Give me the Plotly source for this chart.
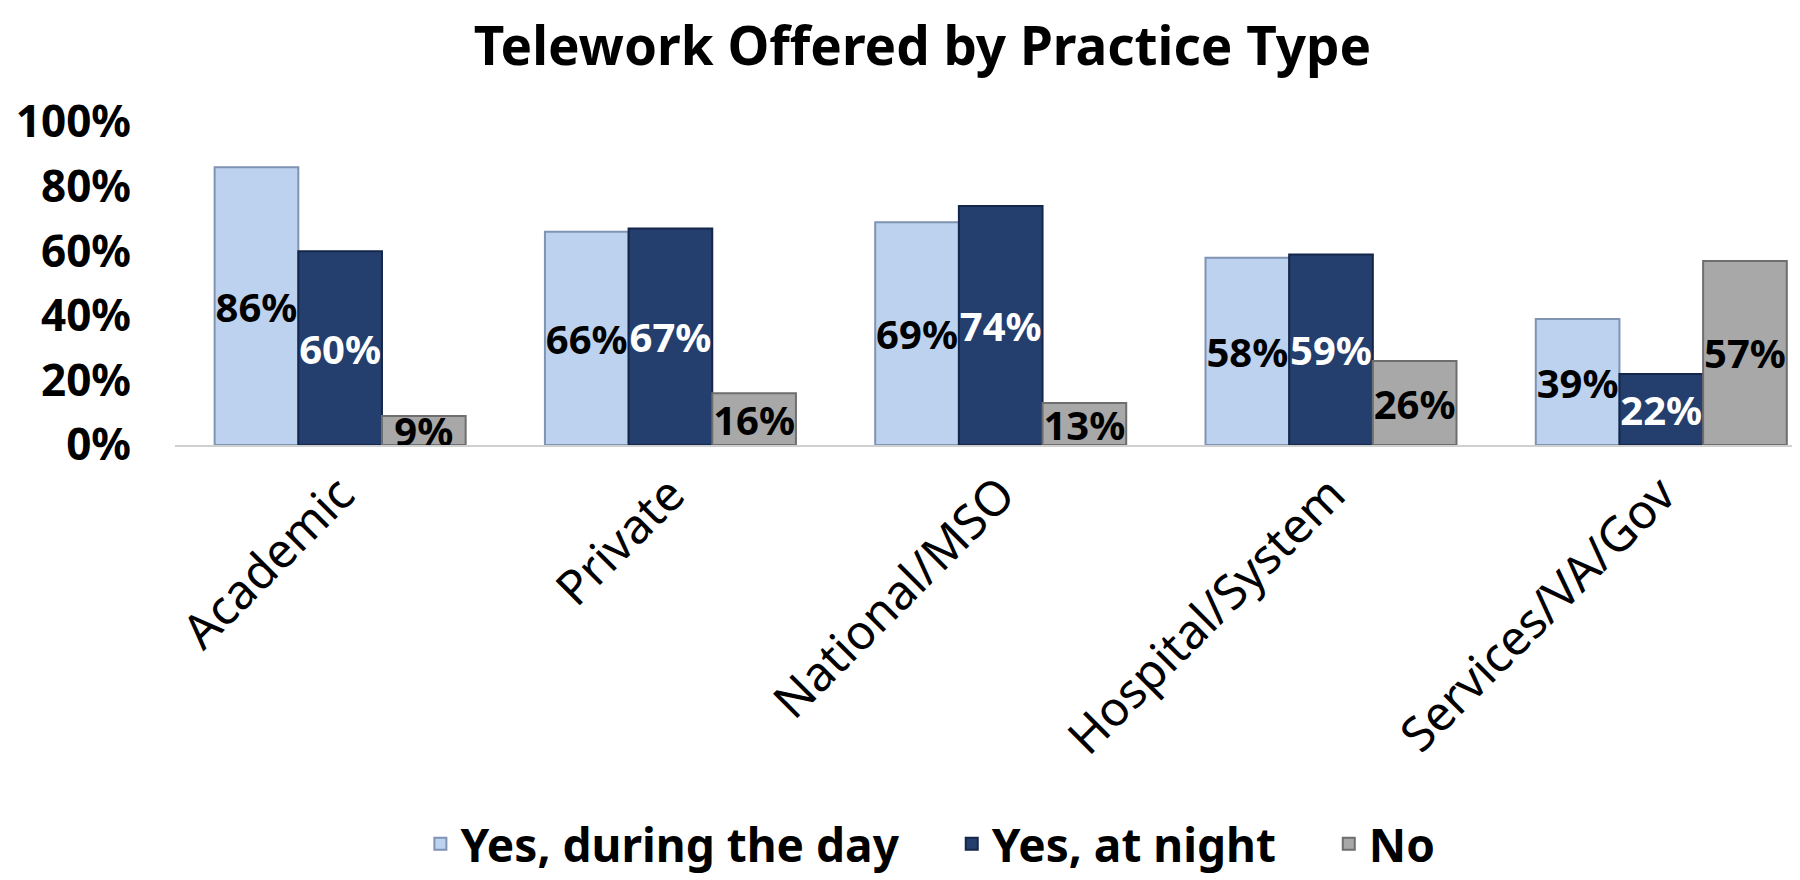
import plotly.graph_objects as go

# practice types and share offering telework (%)
categories = ["Academic", "Private", "National/MSO", "Hospital/System", "Services/VA/Gov"]
yes_day = [86, 66, 69, 58, 39]
yes_night = [60, 67, 74, 59, 22]
no_telework = [9, 16, 13, 26, 57]
y_ticks = [0, 20, 40, 60, 80, 100]

pad = "\u00a0" * 4  # extra room between legend entries
series = [
    ("Yes, during the day" + pad, yes_day, "#BDD2EE", "#7F93B3", "black"),
    ("Yes, at night" + pad, yes_night, "#243F6E", "#14264A", "white"),
    ("No", no_telework, "#A8A8A8", "#6E6E6E", "black"),
]

fig = go.Figure()
for name, vals, fill, edge, txt in series:
    fig.add_trace(go.Bar(
        name=name,
        x=categories,
        y=vals,
        text=[f"{v}%" for v in vals],
        textposition="inside",
        insidetextanchor="middle",
        textangle=0,
        constraintext="none",
        cliponaxis=False,
        textfont=dict(family="Noto Sans", size=40, color=txt, weight="bold"),
        marker=dict(color=fill, line=dict(color=edge, width=2)),
    ))

fig.update_layout(
    width=1800,
    height=880,
    barmode="group",
    bargap=0.24,
    bargroupgap=0,
    plot_bgcolor="white",
    paper_bgcolor="white",
    margin=dict(l=159, r=8, t=114, b=443),
    uniformtext=dict(minsize=40, mode="show"),
    title=dict(
        text="Telework Offered by Practice Type",
        x=0.508, xref="container", xanchor="center",
        y=0.956, yref="container", yanchor="middle",
        font=dict(family="Noto Sans", size=53, color="black", weight="bold"),
    ),
    legend=dict(
        orientation="h",
        x=0.151, xanchor="left",
        y=-1.235, yanchor="middle",
        font=dict(family="Noto Sans", size=46, color="black", weight="bold"),
    ),
    showlegend=True,
)

fig.update_xaxes(
    range=[-0.5, 4.42],
    tickangle=-45,
    tickfont=dict(family="Noto Sans", size=48, color="black"),
    showline=True,
    linecolor="#D0D0D0",
    linewidth=2,
    showgrid=False,
    ticks="",
)
fig.update_yaxes(
    range=[0, 100],
    tickvals=y_ticks,
    ticktext=[f"{t}%" for t in y_ticks],
    tickfont=dict(family="Noto Sans", size=44, color="black", weight="bold"),
    showgrid=False,
    showline=False,
    zeroline=False,
    ticks="",
    ticklabelstandoff=43,
)

fig.write_html("out.html")
